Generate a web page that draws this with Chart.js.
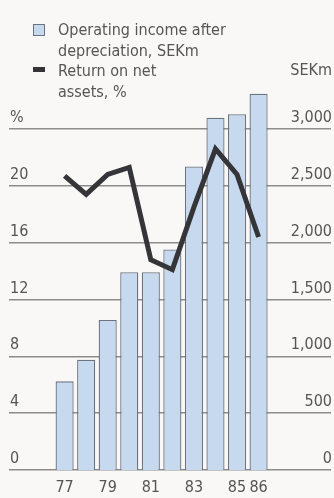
<!DOCTYPE html>
<html>
<head>
<meta charset="utf-8">
<script src="https://cdn.jsdelivr.net/npm/chart.js@4.4.1/dist/chart.umd.min.js"></script>
<style>
  html, body { margin: 0; padding: 0; background: #f9f8f6; }
  #wrap { position: relative; width: 334px; height: 498px; overflow: hidden; }
  #chart { position: absolute; left: 0; top: 0; }
  .txt { position: absolute; font-family: "Liberation Sans Narrow", "DejaVu Sans Condensed", sans-serif;
         color: #555; font-size: 16px; line-height: 20.5px; white-space: nowrap; }
  .swatch { position: absolute; box-sizing: border-box; }
</style>
</head>
<body>
<div id="wrap">
  <canvas id="chart" width="334" height="498"></canvas>
  <div class="swatch" style="left:33px;top:24px;width:12px;height:12px;background:#c6d9ef;border:1px solid #6b7380;"></div>
  <div class="txt" style="left:58px;top:20px;">Operating income after<br>depreciation, SEKm</div>
  <div class="swatch" style="left:33px;top:67px;width:12px;height:5px;background:#353539;"></div>
  <div class="txt" style="left:58px;top:61px;">Return on net<br>assets, %</div>
  <div class="txt" style="right:2px;top:60px;">SEKm</div>
</div>
<script>
// Fiscal years (19xx)
const years = [77, 78, 79, 80, 81, 82, 83, 84, 85, 86];
// Operating income after depreciation, SEKm
const operatingIncome = [780, 970, 1320, 1740, 1740, 1940, 2670, 3100, 3130, 3310];
// Return on net assets, %
const returnOnAssets = [20.7, 19.4, 20.8, 21.3, 14.8, 14.1, 18.5, 22.6, 20.8, 16.4];
// Tick values
const yearTicks = [77, 79, 81, 83, 85, 86];
const pctTicks = [0, 4, 8, 12, 16, 20, 24];
const sekTicks = [0, 500, 1000, 1500, 2000, 2500, 3000];

const FONT = "'Liberation Sans Narrow', 'DejaVu Sans Condensed', sans-serif";
const TEXT = '#555555';

// Headroom above the top gridline so the tallest bars fit; both axes share it
const SEK_TOP = 3000, PCT_TOP = 24, HEADROOM = 380 / 341;

new Chart(document.getElementById('chart'), {
  data: {
    datasets: [
      {
        type: 'line',
        data: years.map((y, i) => ({ x: y, y: returnOnAssets[i] })),
        yAxisID: 'yPct',
        borderColor: '#353539',
        borderWidth: 5,
        pointRadius: 0,
        tension: 0,
        order: 0
      },
      {
        type: 'bar',
        data: years.map((y, i) => ({ x: y, y: operatingIncome[i] })),
        yAxisID: 'ySek',
        backgroundColor: '#c6d9ef',
        borderColor: '#6b7380',
        borderWidth: 1.3,
        barPercentage: 0.84,
        categoryPercentage: 1,
        order: 1
      }
    ]
  },
  options: {
    responsive: false,
    animation: false,
    layout: { padding: { top: 90, left: 7, right: 1, bottom: 0 } },
    plugins: { legend: { display: false }, tooltip: { enabled: false } },
    scales: {
      x: {
        type: 'linear',
        offset: false,
        min: 74.42,
        max: 89.36,
        grid: { display: false },
        border: { display: false },
        afterBuildTicks: s => { s.ticks = yearTicks.map(v => ({ value: v })); },
        afterFit: s => { s.height = 28; },
        ticks: {
          padding: 0,
          color: TEXT,
          font: { family: FONT, size: 16 },
          callback: v => String(v)
        }
      },
      yPct: {
        position: 'left',
        min: 0,
        max: PCT_TOP * HEADROOM,
        grid: { color: '#8c8c8c', lineWidth: 1.5, drawTicks: false },
        border: { display: false },
        afterBuildTicks: s => { s.ticks = pctTicks.map(v => ({ value: v })); },
        ticks: {
          mirror: true,
          padding: 1,
          labelOffset: -11,
          color: TEXT,
          font: { family: FONT, size: 16 },
          callback: v => (v === PCT_TOP ? '%' : String(v))
        }
      },
      ySek: {
        position: 'right',
        min: 0,
        max: SEK_TOP * HEADROOM,
        grid: { display: false, drawTicks: false },
        border: { display: false },
        afterBuildTicks: s => { s.ticks = sekTicks.map(v => ({ value: v })); },
        ticks: {
          mirror: true,
          padding: 1,
          labelOffset: -11,
          color: TEXT,
          font: { family: FONT, size: 16 },
          callback: v => v.toLocaleString('en-US')
        }
      }
    }
  }
});
</script>
</body>
</html>
